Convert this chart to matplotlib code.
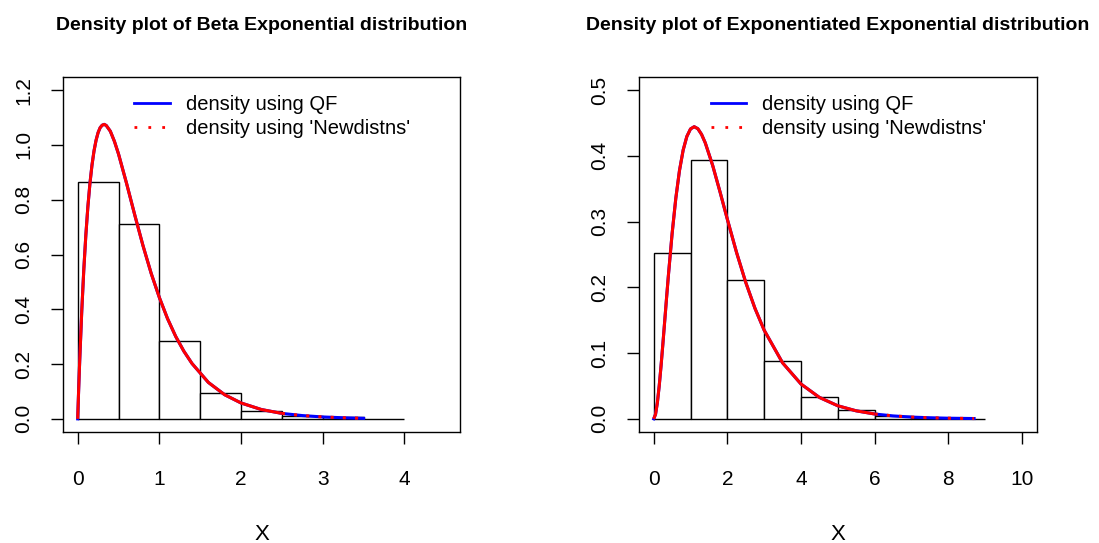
import matplotlib

matplotlib.use("Agg")
import matplotlib.pyplot as plt
import numpy as np
from matplotlib.lines import Line2D

# Beta Exponential panel: histogram (bin width 0.5) and density curve
be_edges = [0.0, 0.5, 1.0, 1.5, 2.0, 2.5, 3.0, 3.5, 4.0]
be_hist = [0.863, 0.713, 0.285, 0.096, 0.030, 0.011, 0.005, 0.001]
be_x = [0.0, 0.0125, 0.025, 0.05, 0.075, 0.1, 0.125, 0.15, 0.175, 0.2,
        0.225, 0.25, 0.275, 0.3, 0.325, 0.35, 0.4, 0.45, 0.5, 0.6, 0.7, 0.8,
        0.9, 1.0, 1.1, 1.2, 1.3, 1.4, 1.6, 1.8, 2.0, 2.25, 2.5, 2.75, 3.0,
        3.25, 3.5]
be_y = [0.0, 0.111, 0.213, 0.394, 0.545, 0.671, 0.775, 0.859, 0.926, 0.978,
        1.017, 1.045, 1.063, 1.072, 1.075, 1.071, 1.050, 1.013, 0.967, 0.858,
        0.743, 0.632, 0.531, 0.443, 0.366, 0.301, 0.247, 0.202, 0.133, 0.088,
        0.058, 0.034, 0.020, 0.012, 0.007, 0.004, 0.002]
be_xticks = [0, 1, 2, 3, 4]
be_yticks = [0.0, 0.2, 0.4, 0.6, 0.8, 1.0, 1.2]

# Exponentiated Exponential panel: histogram (bin width 1) and density curve
ee_edges = [0, 1, 2, 3, 4, 5, 6, 7, 8, 9]
ee_hist = [0.2525, 0.394, 0.2115, 0.0882, 0.034, 0.0132, 0.005, 0.0015, 0.0005]
ee_x = [0.0, 0.05, 0.1, 0.15, 0.2, 0.25, 0.3, 0.35, 0.4, 0.5, 0.6, 0.7,
        0.8, 0.9, 1.0, 1.1, 1.2, 1.3, 1.4, 1.6, 1.8, 2.0, 2.25, 2.5, 2.75,
        3.0, 3.5, 4.0, 4.5, 5.0, 5.5, 6.0, 6.5, 7.0, 7.5, 8.0, 8.7]
ee_y = [0.0, 0.0068, 0.0246, 0.0501, 0.0807, 0.1143, 0.1493, 0.1844, 0.2186,
        0.2817, 0.3352, 0.3776, 0.4088, 0.4295, 0.4410, 0.4444, 0.4413,
        0.4327, 0.4199, 0.3858, 0.3455, 0.3036, 0.2531, 0.2075, 0.1681,
        0.1349, 0.0852, 0.0530, 0.0326, 0.0199, 0.0122, 0.0074, 0.0045,
        0.0027, 0.0017, 0.0010, 0.0005]
ee_xticks = [0, 2, 4, 6, 8, 10]
ee_yticks = [0.0, 0.1, 0.2, 0.3, 0.4, 0.5]

titles = [
    "Density plot of Beta Exponential distribution",
    "Density plot of Exponentiated Exponential distribution",
]
legend_labels = ["density using QF", "density using 'Newdistns'"]

RED_DOTS = (0, (1, 3))


def _panel(ax, edges, hist, x, y, xlim, ylim, xticks, yticks, split, title):
    edges = np.asarray(edges, dtype=float)
    ax.bar(edges[:-1], hist, width=np.diff(edges), align="edge",
           facecolor="white", edgecolor="black", linewidth=1.0, zorder=1)

    x = np.asarray(x)
    y = np.asarray(y)
    ax.plot(x, y, color="blue", linewidth=2.2, zorder=2)
    # dense part of the red curve looks solid, the sparse tail shows dots
    head = x <= split
    tail = x >= split
    ax.plot(x[head], y[head], color="red", linewidth=2.2, zorder=3,
            solid_capstyle="butt")
    ax.plot(x[tail], y[tail], color="red", linewidth=2.2, zorder=3,
            linestyle=RED_DOTS)

    # R style 4% axis extension
    dx = 0.04 * (xlim[1] - xlim[0])
    dy = 0.04 * (ylim[1] - ylim[0])
    ax.set_xlim(xlim[0] - dx, xlim[1] + dx)
    ax.set_ylim(ylim[0] - dy, ylim[1] + dy)

    ax.set_xticks(xticks)
    ax.set_xticklabels([str(t) for t in xticks])
    ax.set_yticks(yticks)
    ax.set_yticklabels([f"{t:.1f}" for t in yticks])
    ax.tick_params(axis="x", direction="out", length=8.5, width=1.0,
                   labelsize=15, pad=19)
    ax.tick_params(axis="y", direction="out", length=8.5, width=1.0,
                   labelsize=15, pad=13, labelrotation=90)
    for lab in ax.get_yticklabels():
        lab.set_va("center")
    for spine in ax.spines.values():
        spine.set_linewidth(1.0)

    ax.set_xlabel("X", fontsize=16, labelpad=25)
    ax.set_title(title, fontsize=14, fontweight="bold", pad=34)

    handles = [
        Line2D([], [], color="blue", linewidth=2.0),
        Line2D([], [], color="red", linewidth=2.0, linestyle=(0, (1, 4))),
    ]
    ax.legend(handles, legend_labels, loc="upper left",
              bbox_to_anchor=(0.18, 0.95), frameon=False, fontsize=14.5,
              handlelength=1.75, handletextpad=0.8, labelspacing=0.25,
              borderpad=0.0, borderaxespad=0.0)


def main():
    plt.rcParams["font.family"] = ["Liberation Sans", "DejaVu Sans"]
    fig = plt.figure(figsize=(10.99, 5.43), dpi=100)
    ax1 = fig.add_axes([0.0573, 0.2044, 0.3612, 0.6538])
    ax2 = fig.add_axes([0.5814, 0.2044, 0.3619, 0.6538])

    _panel(ax1, be_edges, be_hist, be_x, be_y, (0.0, 4.5), (0.0, 1.2),
           be_xticks, be_yticks, 2.5, titles[0])
    _panel(ax2, ee_edges, ee_hist, ee_x, ee_y, (0.0, 10.0), (0.0, 0.5),
           ee_xticks, ee_yticks, 6.0, titles[1])

    fig.savefig("out.png", dpi=100)
    plt.close(fig)


if __name__ == "__main__":
    main()
